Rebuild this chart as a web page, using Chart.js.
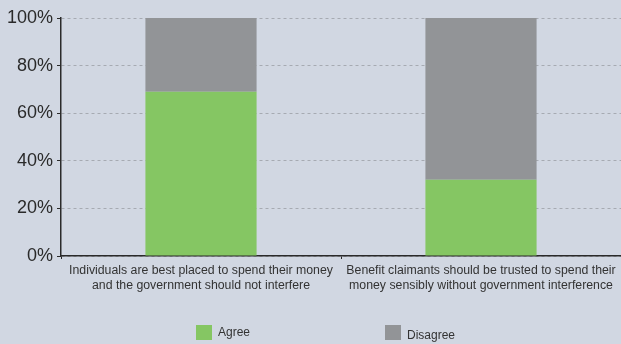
<!DOCTYPE html>
<html>
<head>
<meta charset="utf-8">
<script src="https://cdn.jsdelivr.net/npm/chart.js@4/dist/chart.umd.min.js"></script>
<style>
  html, body { margin: 0; padding: 0; background: #d1d7e2; }
  #wrap { width: 621px; height: 344px; position: relative; }
</style>
</head>
<body>
<div id="wrap"><canvas id="surveyChart"></canvas></div>
<script>
const categories = [
  ["Individuals are best placed to spend their money", "and the government should not interfere"],
  ["Benefit claimants should be trusted to spend their", "money sensibly without government interference"]
];
const agree = [69, 32];
const disagree = [31, 68];
const yTicks = [0, 20, 40, 60, 80, 100];

const GREEN = "#85c663";
const GREY = "#929497";
const INK = "#2a2a2a";
const FONT = "'Liberation Sans', Arial, Helvetica, sans-serif";

// legend drawn below the axis labels, with wide gap between the two entries
const bottomLegend = {
  id: "bottomLegend",
  afterDraw(chart, args, opts) {
    const ctx = chart.ctx;
    ctx.save();
    ctx.font = "12px " + FONT;
    ctx.textBaseline = "middle";
    chart.data.datasets.forEach((ds, i) => {
      const it = opts.items[i];
      ctx.fillStyle = ds.backgroundColor;
      ctx.fillRect(it.x, it.y, 16, 15);
      ctx.fillStyle = "#333";
      ctx.fillText(ds.label, it.x + 22, it.y + 8 + it.dy);
    });
    ctx.restore();
  }
};

let surveyChartInstance;

function drawSurveyChart() {
  const ctx = document.getElementById("surveyChart");

  if (surveyChartInstance) {
    surveyChartInstance.destroy();
  }

  surveyChartInstance = new Chart(ctx, {
    type: "bar",
    data: {
      labels: categories,
      datasets: [
        { label: "Agree", data: agree, backgroundColor: GREEN },
        { label: "Disagree", data: disagree, backgroundColor: GREY }
      ]
    },
    options: {
      responsive: true,
      maintainAspectRatio: false,
      animation: false,
      layout: { padding: { top: 18, right: 0, bottom: 48, left: 0 } },
      datasets: {
        bar: { categoryPercentage: 1, barPercentage: 0.397, borderWidth: 0 }
      },
      plugins: {
        legend: { display: false },
        tooltip: { enabled: false },
        bottomLegend: {
          items: [
            { x: 196, y: 325, dy: 0 },
            { x: 385, y: 325, dy: 3 }
          ]
        }
      },
      scales: {
        x: {
          stacked: true,
          offset: true,
          border: { display: true, color: INK, width: 1.5 },
          grid: {
            offset: true,
            drawOnChartArea: false,
            drawTicks: true,
            tickLength: 3,
            tickColor: INK
          },
          ticks: {
            autoSkip: false,
            maxRotation: 0,
            minRotation: 0,
            padding: 4,
            color: "#333",
            font: { family: FONT, size: 12.3, lineHeight: 1.2 }
          },
          afterFit(scale) { scale.height = 40; }
        },
        y: {
          stacked: true,
          min: 0,
          max: 100,
          afterBuildTicks(scale) {
            scale.ticks = yTicks.map(v => ({ value: v }));
          },
          // border.dash sets the dash of the horizontal gridlines
          border: { display: true, color: INK, width: 1.5, dash: [3, 3] },
          grid: {
            color: "#a6aab2",
            lineWidth: 1,
            tickColor: INK,
            tickLength: 4,
            tickBorderDash: [],
            drawTicks: true
          },
          ticks: {
            padding: 4,
            color: INK,
            font: { family: FONT, size: 18 },
            callback: v => v + "%"
          },
          afterFit(scale) { scale.width = 61; }
        }
      }
    },
    plugins: [bottomLegend]
  });
}

drawSurveyChart();
</script>
</body>
</html>
